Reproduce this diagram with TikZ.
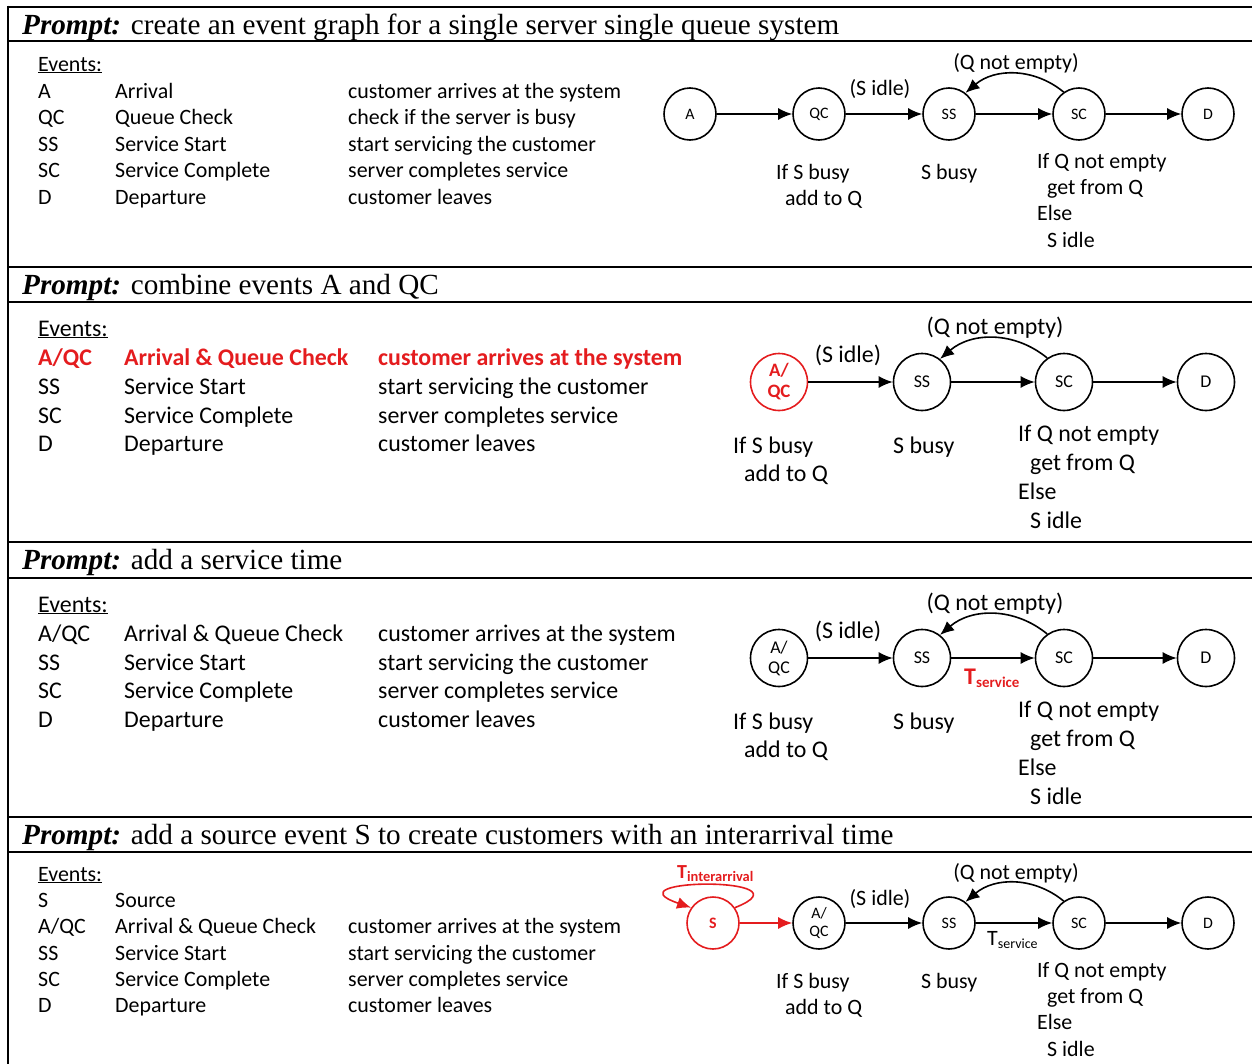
\documentclass[tikz,border=0pt]{standalone}
\usepackage{fontspec}
\setmainfont{Carlito}
\newfontfamily\tnr{Liberation Serif}
\usetikzlibrary{arrows.meta}
\definecolor{evred}{RGB}{228,28,30}

\begin{document}
\begin{tikzpicture}[x=1bp,y=-1bp,
  ev/.style={circle,draw,line width=1.6bp,minimum size=52bp,inner sep=0pt,
    font=\fontsize{16}{19}\selectfont,align=center},
  evB/.style={ev,minimum size=57bp,font=\fontsize{18}{20}\selectfont},
  arr/.style={line width=1.6bp,-{Latex[length=14bp,width=12bp]}},
  txt/.style={anchor=base west,inner sep=0pt,font=\fontsize{22}{22}\selectfont},
  txtB/.style={anchor=base west,inner sep=0pt,font=\fontsize{24}{24}\selectfont},
  ctxt/.style={txt,anchor=base},
  ctxtB/.style={txtB,anchor=base},
  prompt/.style={anchor=base west,inner sep=0pt,font=\tnr\fontsize{29.3}{29.3}\selectfont},
  hot/.style={text=evred,font=\bfseries\fontsize{24}{24}\selectfont},
  rule/.style={line width=2bp}
]
\useasboundingbox (0,0) rectangle (1252,1064);

% table rules
\draw[rule] (8,6.5) -- (1252,6.5);
\foreach \yy in {40.5,266.5,301.5,541.5,577.5,816.5,851.5}
  \draw[rule] (8,\yy) -- (1252,\yy);
\draw[rule] (8,5.5) -- (8,1064);

% ---------------- section 1 ----------------
\node[prompt] (p1) at (22,34.5) {\textbf{\textit{Prompt:}} create an event graph for a single server single queue system};
\node[txt] (e1) at (38,71) {\underline{Events:}};
\node[txt] (e1a) at (38,98) {A};
\node[txt] (e1b) at (38,124) {QC};
\node[txt] (e1c) at (38,151) {SS};
\node[txt] (e1d) at (38,177) {SC};
\node[txt] (e1e) at (38,204) {D};
\node[txt] (n1a) at (115,98) {Arrival};
\node[txt] (n1b) at (115,124) {Queue Check};
\node[txt] (n1c) at (115,151) {Service Start};
\node[txt] (n1d) at (115,177) {Service Complete};
\node[txt] (n1e) at (115,204) {Departure};
\node[txt] (d1a) at (348,98) {customer arrives at the system};
\node[txt] (d1b) at (348,124) {check if the server is busy};
\node[txt] (d1c) at (348,151) {start servicing the customer};
\node[txt] (d1d) at (348,177) {server completes service};
\node[txt] (d1e) at (348,204) {customer leaves};

\node[ev] (A1) at (690,114) {A};
\node[ev] (QC1) at (819,114) {QC};
\node[ev] (SS1) at (949,114) {SS};
\node[ev] (SC1) at (1079,114) {SC};
\node[ev] (D1) at (1208,114) {D};
\draw[arr] (A1) -- (QC1);
\draw[arr] (QC1) -- (SS1);
\draw[arr] (SS1) -- (SC1);
\draw[arr] (SC1) -- (D1);
\draw[arr] (SC1.125) to[bend right=40] (SS1.52);
\node[ctxt] (si1) at (880,95) {(S idle)};
\node[ctxt] (qn1) at (1016,69) {(Q not empty)};
\node[txt] (b1a) at (776,179) {If S busy};
\node[txt] (b1b) at (785,205) {add to Q};
\node[txt] (sb1) at (921,179) {S busy};
\node[txt] (c1a) at (1037,168) {If Q not empty};
\node[txt] (c1b) at (1047,194) {get from Q};
\node[txt] (c1c) at (1037,220) {Else};
\node[txt] (c1d) at (1047,247) {S idle};

% ---------------- section 2 ----------------
\node[prompt] (p2) at (22,294.5) {\textbf{\textit{Prompt:}} combine events A and QC};
\node[txtB] (e2) at (38,336) {\underline{Events:}};
\node[txtB,hot] (e2a) at (38,365) {A/QC};
\node[txtB] (e2b) at (38,394) {SS};
\node[txtB] (e2c) at (38,423) {SC};
\node[txtB] (e2d) at (38,451) {D};
\node[txtB,hot] (n2a) at (124,365) {Arrival \& Queue Check};
\node[txtB] (n2b) at (124,394) {Service Start};
\node[txtB] (n2c) at (124,423) {Service Complete};
\node[txtB] (n2d) at (124,451) {Departure};
\node[txtB,hot] (d2a) at (378,365) {customer arrives at the system};
\node[txtB] (d2b) at (378,394) {start servicing the customer};
\node[txtB] (d2c) at (378,423) {server completes service};
\node[txtB] (d2d) at (378,451) {customer leaves};

\node[evB,draw=evred,text=evred,font=\bfseries\fontsize{19}{21}\selectfont] (AQ2) at (779,382) {A/\\QC};
\node[evB] (SS2) at (922,382) {SS};
\node[evB] (SC2) at (1064,382) {SC};
\node[evB] (D2) at (1206,382) {D};
\draw[arr] (AQ2) -- (SS2);
\draw[arr] (SS2) -- (SC2);
\draw[arr] (SC2) -- (D2);
\draw[arr] (SC2.125) to[bend right=40] (SS2.52);
\node[ctxtB] (si2) at (848,362) {(S idle)};
\node[ctxtB] (qn2) at (995,334) {(Q not empty)};
\node[txtB] (b2a) at (733,453) {If S busy};
\node[txtB] (b2b) at (744,481) {add to Q};
\node[txtB] (sb2) at (893,453) {S busy};
\node[txtB] (c2a) at (1018,441) {If Q not empty};
\node[txtB] (c2b) at (1030,470) {get from Q};
\node[txtB] (c2c) at (1018,499) {Else};
\node[txtB] (c2d) at (1030,528) {S idle};

% ---------------- section 3 ----------------
\node[prompt] (p3) at (22,569.5) {\textbf{\textit{Prompt:}} add a service time};
\node[txtB] (e3) at (38,612) {\underline{Events:}};
\node[txtB] (e3a) at (38,641) {A/QC};
\node[txtB] (e3b) at (38,670) {SS};
\node[txtB] (e3c) at (38,698) {SC};
\node[txtB] (e3d) at (38,727) {D};
\node[txtB] (n3a) at (124,641) {Arrival \& Queue Check};
\node[txtB] (n3b) at (124,670) {Service Start};
\node[txtB] (n3c) at (124,698) {Service Complete};
\node[txtB] (n3d) at (124,727) {Departure};
\node[txtB] (d3a) at (378,641) {customer arrives at the system};
\node[txtB] (d3b) at (378,670) {start servicing the customer};
\node[txtB] (d3c) at (378,698) {server completes service};
\node[txtB] (d3d) at (378,727) {customer leaves};

\node[evB] (AQ3) at (779,658) {A/\\QC};
\node[evB] (SS3) at (922,658) {SS};
\node[evB] (SC3) at (1064,658) {SC};
\node[evB] (D3) at (1206,658) {D};
\draw[arr] (AQ3) -- (SS3);
\draw[arr] (SS3) -- (SC3);
\draw[arr] (SC3) -- (D3);
\draw[arr] (SC3.125) to[bend right=40] (SS3.52);
\node[ctxtB] (si3) at (848,638) {(S idle)};
\node[ctxtB] (qn3) at (995,610) {(Q not empty)};
\node[anchor=base west,inner sep=0pt,text=evred,font=\bfseries\fontsize{24}{24}\selectfont]
  (ts3) at (964,684) {T\raisebox{-3.5bp}{\fontsize{15}{15}\selectfont service}};
\node[txtB] (b3a) at (733,729) {If S busy};
\node[txtB] (b3b) at (744,757) {add to Q};
\node[txtB] (sb3) at (893,729) {S busy};
\node[txtB] (c3a) at (1018,717) {If Q not empty};
\node[txtB] (c3b) at (1030,746) {get from Q};
\node[txtB] (c3c) at (1018,775) {Else};
\node[txtB] (c3d) at (1030,804) {S idle};

% ---------------- section 4 ----------------
\node[prompt] (p4) at (22,844.5) {\textbf{\textit{Prompt:}} add a source event S to create customers with an interarrival time};
\node[txt] (e4) at (38,881) {\underline{Events:}};
\node[txt] (e4a) at (38,907) {S};
\node[txt] (e4b) at (38,933) {A/QC};
\node[txt] (e4c) at (38,960) {SS};
\node[txt] (e4d) at (38,986) {SC};
\node[txt] (e4e) at (38,1012) {D};
\node[txt] (n4a) at (115,907) {Source};
\node[txt] (n4b) at (115,933) {Arrival \& Queue Check};
\node[txt] (n4c) at (115,960) {Service Start};
\node[txt] (n4d) at (115,986) {Service Complete};
\node[txt] (n4e) at (115,1012) {Departure};
\node[txt] (d4b) at (348,933) {customer arrives at the system};
\node[txt] (d4c) at (348,960) {start servicing the customer};
\node[txt] (d4d) at (348,986) {server completes service};
\node[txt] (d4e) at (348,1012) {customer leaves};

\node[ev,draw=evred,text=evred,font=\bfseries\fontsize{16}{19}\selectfont] (S4) at (713,923) {S};
\node[ev] (AQ4) at (819,923) {A/\\QC};
\node[ev] (SS4) at (949,923) {SS};
\node[ev] (SC4) at (1079,923) {SC};
\node[ev] (D4) at (1208,923) {D};
\draw[arr,draw=evred] (S4) -- (AQ4);
% self loop of the source event
\draw[arr,draw=evred] (S4.35) .. controls (815,876) and (605,878) .. (S4.145);
\draw[arr] (AQ4) -- (SS4);
\draw[arr] (SS4) -- (SC4);
\draw[arr] (SC4) -- (D4);
\draw[arr] (SC4.125) to[bend right=40] (SS4.52);
\node[anchor=base west,inner sep=0pt,text=evred,font=\bfseries\fontsize{20}{20}\selectfont]
  (ti4) at (677,878) {T\raisebox{-3bp}{\fontsize{14.5}{14.5}\selectfont interarrival}};
\node[anchor=base west,inner sep=0pt,font=\fontsize{22}{22}\selectfont]
  (ts4) at (987,945) {T\raisebox{-3.5bp}{\fontsize{14}{14}\selectfont service}};
\node[ctxt] (si4) at (880,905) {(S idle)};
\node[ctxt] (qn4) at (1016,879) {(Q not empty)};
\node[txt] (b4a) at (776,988) {If S busy};
\node[txt] (b4b) at (785,1014) {add to Q};
\node[txt] (sb4) at (921,988) {S busy};
\node[txt] (c4a) at (1037,977) {If Q not empty};
\node[txt] (c4b) at (1047,1003) {get from Q};
\node[txt] (c4c) at (1037,1029) {Else};
\node[txt] (c4d) at (1047,1056) {S idle};
\end{tikzpicture}
\end{document}
